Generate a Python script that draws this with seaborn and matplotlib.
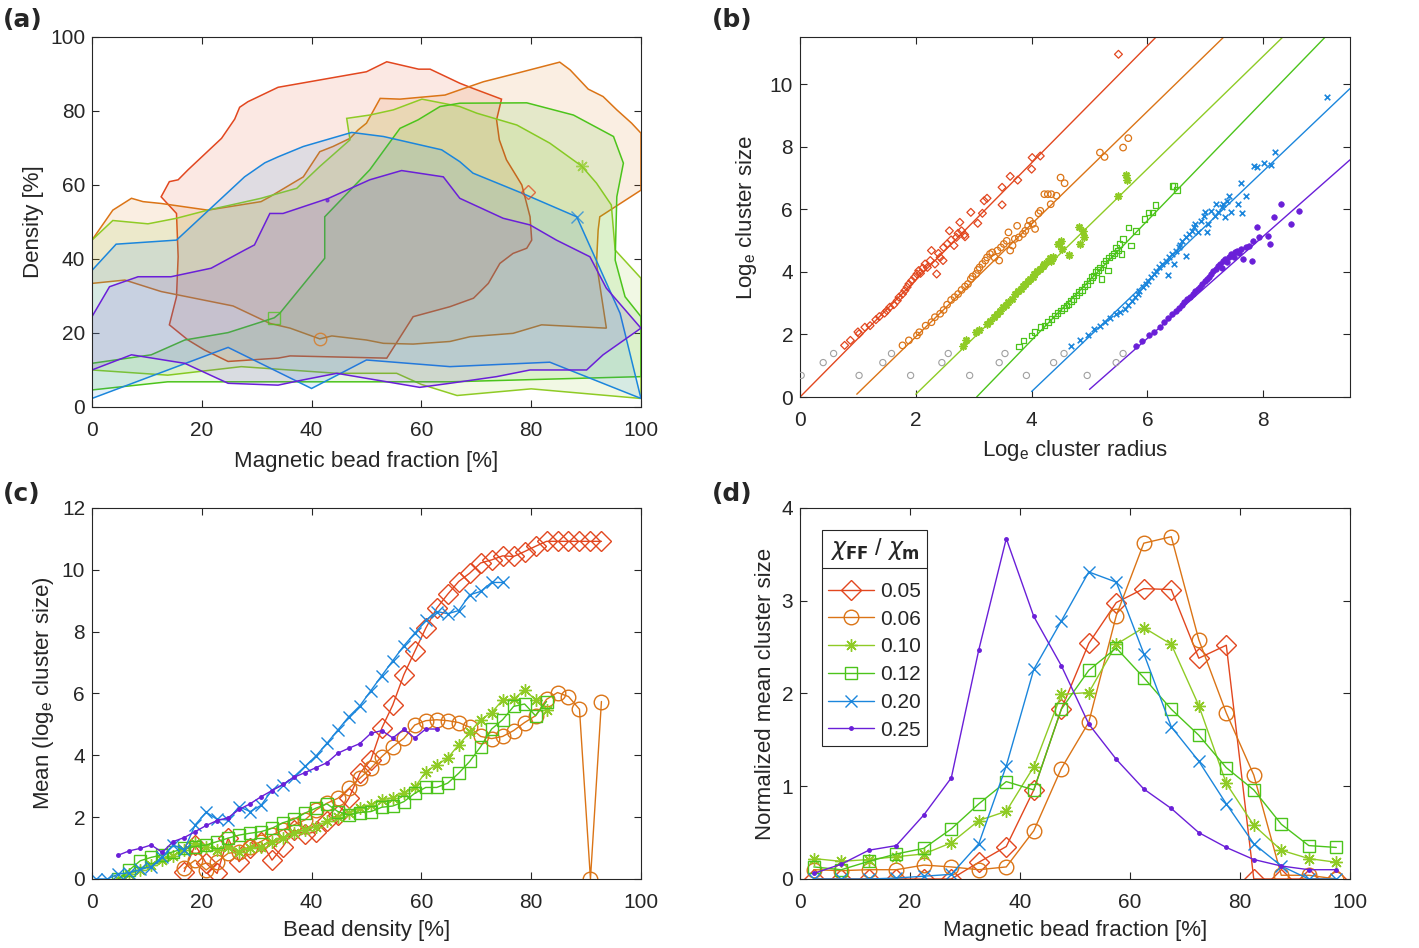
import matplotlib
matplotlib.use('Agg')
import matplotlib.pyplot as plt
from matplotlib.lines import Line2D
from matplotlib.colors import to_rgba
import numpy as np
import seaborn as sns

# ---------------- shared series info ----------------
ratios = ['0.05', '0.06', '0.10', '0.12', '0.20', '0.25']
colors = ['#E2471F', '#DB7416', '#8FCB25', '#4CC41B', '#1B86DC', '#6A1FD8']

# ---------------- panel (a): occupied regions (bead fraction %, density %) ----------------
a_x_005 = [12.6, 14.1, 15.7, 17.5, 23.6, 26.0, 26.9, 28.4, 33.9, 50.0, 53.7, 59.5, 61.6, 67.0, 69.4,
           74.6, 73.7, 74.2, 75.5, 77.4, 78.3, 79.8, 80.1, 79.2, 76.7, 74.3, 72.2, 69.5, 65.2, 58.5,
           53.7, 36.1, 33.9, 24.8, 20.5, 17.5, 14.1, 15.4, 15.7, 15.4]
a_y_005 = [56.8, 60.9, 61.4, 64.1, 72.6, 77.8, 81.0, 82.5, 86.4, 90.6, 93.3, 91.3, 91.3, 87.5, 86.1,
           83.2, 77.6, 72.2, 66.8, 62.2, 60.0, 51.4, 45.1, 42.9, 41.5, 38.8, 33.4, 29.4, 27.1, 24.4,
           13.2, 13.8, 13.2, 12.3, 15.4, 18.1, 22.2, 29.8, 40.6, 52.3]
a_x_006 = [0, 3.8, 7.2, 9.3, 12.6, 21.1, 30.8, 32.4, 38.5, 41.5, 43.9, 47.0, 48.5, 50.0, 52.5, 56.1,
           64.3, 67.0, 71.3, 77.4, 85.2, 87.1, 90.4, 93.1, 95.6, 98.3, 100, 100, 92.5, 92.2, 91.9,
           93.7, 81.9, 76.7, 68.9, 65.2, 58.5, 53.1, 50.0, 43.7, 41.5, 36.1, 32.4, 25.7, 12.6, 6.0, 0]
a_y_006 = [45.1, 53.2, 56.4, 55.5, 55.0, 53.2, 55.5, 56.8, 62.2, 69.0, 70.4, 72.6, 74.9, 76.7, 83.4, 83.2,
           84.3, 85.7, 87.9, 90.2, 93.2, 91.1, 85.9, 83.9, 80.3, 76.7, 74.0, 58.6, 51.4, 47.8, 38.8,
           21.3, 22.2, 19.9, 19.0, 17.7, 17.0, 17.2, 18.1, 19.2, 18.4, 21.3, 22.6, 27.3, 31.2, 34.3, 33.4]
a_x_010 = [0, 3.8, 10.2, 15.4, 21.1, 30.8, 37.3, 41.5, 47.0, 46.4, 50.6, 54.9, 60.1, 67.0, 70.1, 77.4,
           83.4, 89.2, 91.9, 94.6, 95.3, 100, 100, 80.0, 66.5, 60.0, 55.5, 44.6, 27.2, 13.8, 0]
a_y_010 = [45.1, 50.4, 49.5, 51.0, 53.2, 56.4, 59.1, 65.0, 72.2, 78.0, 78.9, 80.3, 83.2, 81.2, 79.4, 76.2,
           71.3, 65.1, 60.5, 54.6, 42.4, 34.8, 2.3, 4.9, 3.1, 6.1, 9.1, 9.1, 10.9, 8.6, 10.0]
a_x_012 = [0, 13.8, 29.0, 65.2, 100, 100, 97.1, 95.3, 95.6, 96.8, 95.0, 87.7, 79.2, 67.0, 63.4, 59.4,
           56.1, 50.6, 42.4, 42.4, 34.2, 33.2, 24.8, 16.9, 10.8, 0]
a_y_012 = [4.6, 6.8, 6.8, 6.8, 8.2, 24.4, 29.8, 39.7, 56.8, 65.9, 73.1, 78.9, 82.2, 82.1, 81.2, 77.6,
           75.3, 64.1, 51.4, 40.2, 25.3, 24.1, 20.1, 18.1, 14.1, 11.8]
a_x_020 = [0, 4.4, 15.4, 27.8, 31.5, 33.9, 38.5, 47.3, 53.1, 63.7, 67.0, 69.4, 78.3, 88.3, 96.2, 100,
           83.4, 65.2, 50.0, 40.0, 24.8, 0]
a_y_020 = [36.9, 44.0, 45.1, 62.2, 66.0, 67.6, 70.4, 74.2, 73.1, 69.5, 66.3, 63.2, 57.8, 51.4, 25.3, 2.3,
           12.1, 10.9, 12.7, 5.0, 16.1, 2.3]
a_x_025 = [0, 3.2, 8.4, 14.4, 21.7, 27.8, 29.6, 32.4, 34.8, 43.1, 50.6, 56.4, 64.0, 67.0, 74.9, 79.8,
           84.6, 90.7, 93.7, 100, 93.1, 90.1, 79.8, 73.7, 65.2, 59.7, 44.6, 38.4, 33.9, 24.8, 16.9, 7.2, 0]
a_y_025 = [24.4, 32.5, 35.2, 35.2, 37.5, 42.4, 43.8, 52.3, 52.3, 56.4, 61.4, 63.9, 62.2, 56.4, 51.0, 49.2,
           45.1, 40.6, 32.1, 21.3, 14.1, 10.0, 10.0, 8.2, 6.4, 5.3, 9.1, 7.3, 5.9, 6.4, 11.8, 14.1, 10.0]
# one marker on each outline
a_mark_x = [79.5, 41.5, 89.2, 33.2, 88.3, 42.8]
a_mark_y = [58.0, 18.4, 65.1, 24.1, 51.4, 56.0]

# ---------------- panel (b): log size vs log radius (shifted by 1 per series) ----------------
b_x_005 = [0.77, 0.87, 1.00, 1.02, 1.12, 1.21, 1.31, 1.37, 1.46, 1.50, 1.55, 1.62, 1.68, 1.71, 1.77, 1.81,
           1.85, 1.88, 1.93, 1.98, 2.02, 2.05, 2.08, 2.12, 2.16, 2.20, 2.25, 2.27, 2.33, 2.36, 2.39, 2.42,
           2.47, 2.48, 2.54, 2.58, 2.61, 2.66, 2.70, 2.73, 2.76, 2.79, 2.84, 2.85, 2.95, 3.07, 3.15, 3.18,
           3.23, 3.49, 3.49, 3.63, 3.76, 4.00, 4.01, 4.15, 5.50]
b_y_005 = [1.65, 1.81, 2.08, 2.02, 2.23, 2.28, 2.47, 2.57, 2.68, 2.76, 2.87, 2.95, 3.08, 3.19, 3.29, 3.40,
           3.51, 3.61, 3.72, 3.83, 3.93, 4.04, 3.95, 4.12, 4.25, 4.14, 4.36, 4.68, 4.25, 3.93, 4.59, 4.46,
           4.36, 4.78, 4.89, 5.31, 5.02, 4.84, 5.10, 5.23, 5.58, 5.31, 5.19, 5.12, 5.90, 5.55, 5.87, 6.27,
           6.35, 6.70, 6.14, 7.05, 6.93, 7.28, 7.65, 7.70, 10.95]
b_x_006 = [1.77, 1.88, 2.02, 2.06, 2.17, 2.27, 2.33, 2.42, 2.48, 2.54, 2.61, 2.67, 2.73, 2.79, 2.85, 2.90,
           2.95, 2.98, 3.04, 3.07, 3.10, 3.15, 3.20, 3.23, 3.28, 3.32, 3.36, 3.41, 3.44, 3.47, 3.52, 3.57,
           3.60, 3.63, 3.67, 3.71, 3.75, 3.78, 3.85, 3.89, 3.94, 3.97, 4.02, 4.06, 4.12, 4.15, 4.22, 4.28,
           4.33, 4.34, 4.43, 4.50, 4.57, 5.18, 5.26, 5.58, 5.67]
b_y_006 = [1.65, 1.81, 1.97, 2.07, 2.28, 2.39, 2.55, 2.66, 2.78, 2.95, 3.10, 3.19, 3.29, 3.42, 3.53, 3.61,
           3.77, 3.85, 3.93, 4.06, 4.14, 4.25, 4.36, 4.46, 4.57, 4.62, 4.46, 4.68, 4.36, 4.78, 4.89, 4.99,
           5.26, 4.68, 4.84, 5.05, 5.47, 5.10, 5.21, 5.31, 5.47, 5.63, 5.53, 5.37, 5.87, 5.95, 6.48, 6.48,
           6.16, 6.48, 6.43, 7.01, 6.83, 7.81, 7.67, 7.97, 8.27]
b_x_010 = [2.82, 2.87, 3.04, 3.09, 3.23, 3.28, 3.35, 3.41, 3.46, 3.50, 3.55, 3.60, 3.66, 3.72, 3.77, 3.81,
           3.85, 3.89, 3.94, 3.97, 4.02, 4.04, 4.09, 4.14, 4.19, 4.22, 4.28, 4.31, 4.34, 4.37, 4.45, 4.50,
           4.53, 4.65, 4.82, 4.84, 4.89, 4.91, 5.49, 5.63, 5.64]
b_y_010 = [1.62, 1.81, 2.07, 2.13, 2.34, 2.42, 2.55, 2.66, 2.76, 2.87, 2.95, 3.03, 3.13, 3.29, 3.38, 3.45,
           3.56, 3.61, 3.70, 3.77, 3.83, 3.93, 4.02, 4.09, 4.20, 4.25, 4.36, 4.43, 4.36, 4.46, 4.89, 4.99,
           4.73, 4.55, 5.44, 4.89, 5.31, 5.10, 6.43, 7.10, 6.93]
b_x_012 = [3.78, 3.86, 4.00, 4.05, 4.15, 4.22, 4.28, 4.34, 4.40, 4.45, 4.51, 4.56, 4.60, 4.64, 4.68, 4.72,
           4.77, 4.82, 4.87, 4.91, 4.96, 5.01, 5.04, 5.07, 5.11, 5.15, 5.18, 5.21, 5.24, 5.28, 5.32, 5.34,
           5.39, 5.42, 5.46, 5.49, 5.52, 5.55, 5.58, 5.67, 5.72, 5.80, 5.95, 6.02, 6.09, 6.14, 6.43, 6.46,
           6.51]
b_y_012 = [1.62, 1.81, 1.97, 2.07, 2.23, 2.28, 2.39, 2.50, 2.60, 2.68, 2.76, 2.85, 2.92, 2.98, 3.06, 3.13,
           3.24, 3.35, 3.42, 3.53, 3.61, 3.72, 3.83, 3.88, 3.99, 4.06, 4.14, 3.77, 4.25, 4.36, 4.04, 4.46,
           4.52, 4.59, 4.78, 4.68, 4.89, 4.57, 5.05, 5.42, 4.84, 5.31, 5.69, 5.90, 5.90, 6.14, 6.75, 6.75,
           6.61]
b_x_020 = [4.68, 4.84, 4.97, 5.08, 5.18, 5.27, 5.36, 5.46, 5.53, 5.61, 5.67, 5.73, 5.78, 5.83, 5.86, 5.92,
           5.98, 6.01, 6.07, 6.11, 6.14, 6.20, 6.26, 6.32, 6.35, 6.38, 6.43, 6.46, 6.50, 6.54, 6.57, 6.60,
           6.66, 6.66, 6.72, 6.77, 6.80, 6.83, 6.88, 6.93, 6.97, 7.00, 7.03, 7.05, 7.10, 7.16, 7.19, 7.22,
           7.28, 7.31, 7.34, 7.37, 7.41, 7.44, 7.56, 7.61, 7.63, 7.70, 7.84, 7.90, 8.01, 8.13, 8.21, 9.11]
b_y_020 = [1.62, 1.81, 1.97, 2.18, 2.28, 2.39, 2.53, 2.64, 2.71, 2.82, 2.95, 3.06, 3.19, 3.29, 3.38, 3.51,
           3.61, 3.72, 3.83, 3.93, 4.02, 4.14, 4.25, 4.36, 3.91, 4.46, 4.57, 4.25, 4.68, 4.78, 4.87, 4.99,
           4.52, 5.10, 5.21, 5.31, 5.42, 5.53, 5.26, 5.63, 5.79, 5.90, 5.26, 5.53, 5.95, 5.79, 6.16, 5.90,
           6.06, 6.16, 5.74, 6.27, 6.43, 5.90, 6.16, 6.85, 5.87, 6.43, 7.39, 7.35, 7.49, 7.42, 7.84, 9.59]
b_x_025 = [5.80, 5.90, 6.02, 6.12, 6.21, 6.29, 6.35, 6.43, 6.50, 6.54, 6.60, 6.64, 6.69, 6.74, 6.79, 6.83,
           6.88, 6.91, 6.94, 6.99, 7.03, 7.07, 7.10, 7.13, 7.18, 7.22, 7.25, 7.28, 7.31, 7.34, 7.37, 7.41,
           7.45, 7.49, 7.51, 7.55, 7.59, 7.62, 7.65, 7.70, 7.75, 7.81, 7.82, 7.90, 7.93, 8.09, 8.12, 8.18,
           8.30, 8.48, 8.61]
b_y_025 = [1.62, 1.79, 1.97, 2.07, 2.25, 2.39, 2.53, 2.66, 2.76, 2.85, 2.95, 3.03, 3.13, 3.21, 3.29, 3.38,
           3.45, 3.53, 3.61, 3.70, 3.77, 3.85, 3.93, 4.02, 4.09, 4.17, 4.25, 4.12, 4.34, 4.41, 4.30, 4.48,
           4.57, 4.46, 4.62, 4.68, 4.59, 4.73, 4.41, 4.78, 4.84, 4.36, 4.99, 5.42, 5.10, 5.15, 4.89, 5.74,
           6.18, 5.53, 5.95]
# smallest clusters (excluded from the fits), grey
b_small_x = [0.02, 0.40, 0.58, 1.02, 1.43, 1.58, 1.91, 2.45, 2.56,
             2.93, 3.44, 3.54, 3.91, 4.38, 4.56, 4.96, 5.46, 5.58]
b_small_y = [0.69, 1.10, 1.39, 0.69, 1.10, 1.39, 0.69, 1.10, 1.39,
             0.69, 1.10, 1.39, 0.69, 1.10, 1.39, 0.69, 1.10, 1.39]
# fitted lines: slope and x-intercept, drawn from x-start
b_fit_slope = [1.87, 1.80, 1.80, 1.91, 1.76, 1.63]
b_fit_x0 = [0.0, 0.93, 1.95, 3.05, 3.90, 4.85]
b_fit_start = [0.0, 0.98, 2.0, 3.05, 4.0, 5.0]

# ---------------- panel (c): mean log size vs bead density ----------------
density = [0.8, 2.8, 4.8, 6.8, 8.8, 10.8, 12.8, 14.8, 16.8, 18.8, 20.8, 22.8, 24.8, 26.8, 28.8, 30.8,
           32.8, 34.8, 36.8, 38.8, 40.8, 42.8, 44.8, 46.8, 48.8, 50.8, 52.8, 54.8, 56.8, 58.8, 60.8,
           62.8, 64.8, 66.8, 68.8, 70.8, 72.8, 74.8, 76.8, 78.8, 80.8, 82.8, 84.8, 86.8, 88.8, 90.8, 92.8]
c_start = [8, 8, 2, 2, 0, 2]
c_005 = [0.24, 1.10, 0.51, 0.18, 1.32, 0.56, 0.99, 1.21, 0.61, 1.05, 1.59, 1.45, 1.53, 1.86, 2.07, 2.61,
         3.42, 3.85, 4.88, 5.63, 6.60, 7.36, 8.11, 8.76, 9.21, 9.62, 9.89, 10.22, 10.32, 10.45, 10.43,
         10.59, 10.76, 10.92, 10.92, 10.92, 10.92, 10.92, 10.92]
c_006 = [0.35, 0.61, 0.29, 0.56, 0.83, 0.88, 1.05, 1.21, 1.42, 1.59, 1.75, 1.91, 2.23, 2.45, 2.61, 2.93,
         3.26, 3.58, 3.96, 4.28, 4.55, 4.98, 5.12, 5.15, 5.12, 5.06, 4.91, 4.61, 4.54, 4.61, 4.80, 5.06,
         5.28, 5.81, 6.03, 5.90, 5.49, 0.0, 5.74]
c_010 = [0.0, 0.16, 0.29, 0.45, 0.61, 0.74, 0.94, 1.15, 1.05, 0.94, 1.05, 0.88, 0.99, 1.05, 1.21, 1.32,
         1.48, 1.59, 1.69, 1.86, 2.02, 2.13, 2.29, 2.39, 2.56, 2.63, 2.77, 2.96, 3.47, 3.69, 3.91, 4.34,
         4.74, 5.15, 5.38, 5.79, 5.81, 6.12, 5.79, 5.45]
c_012 = [0.0, 0.29, 0.59, 0.70, 0.78, 0.88, 0.99, 1.05, 1.10, 1.21, 1.32, 1.42, 1.48, 1.53, 1.64, 1.82,
         1.93, 2.13, 2.29, 2.43, 2.18, 2.07, 2.15, 2.18, 2.32, 2.36, 2.50, 2.77, 2.96, 2.96, 3.10, 3.42,
         3.80, 4.28, 4.85, 5.15, 5.58, 5.66, 5.28, 5.74]
c_020 = [0.0, 0.0, 0.16, 0.20, 0.31, 0.40, 0.72, 1.10, 0.94, 1.75, 2.16, 1.93, 1.91, 2.34, 2.18, 2.38,
         2.88, 3.04, 3.31, 3.64, 3.98, 4.39, 4.82, 5.25, 5.60, 6.09, 6.58, 7.06, 7.54, 7.95, 8.36, 8.65,
         8.58, 8.68, 9.19, 9.30, 9.59, 9.59]
c_025 = [0.77, 0.91, 0.99, 1.10, 0.86, 1.21, 1.34, 1.53, 1.73, 1.89, 1.98, 2.25, 2.43, 2.66, 2.86, 3.06,
         3.29, 3.44, 3.60, 3.76, 4.07, 4.23, 4.38, 4.71, 4.80, 4.56, 4.84, 4.56, 4.85, 4.85]

# ---------------- panel (d): normalised mean cluster size vs bead fraction ----------------
fraction = [2.5, 7.5, 12.5, 17.5, 22.5, 27.5, 32.5, 37.5, 42.5, 47.5,
            52.5, 57.5, 62.5, 67.5, 72.5, 77.5, 82.5, 87.5, 92.5, 97.5]
d_005 = [0, 0, 0, 0, 0, 0, 0.18, 0.35, 0.96, 1.83, 2.54, 2.98, 3.13, 3.12, 2.38, 2.52, 0, 0, 0, 0]
d_006 = [0.10, 0.09, 0.10, 0.10, 0.15, 0.13, 0.10, 0.13, 0.52, 1.19, 1.69, 2.84, 3.62, 3.69, 2.58, 1.79,
         1.12, 0.04, 0.04, 0.0]
d_010 = [0.22, 0.19, 0.21, 0.24, 0.27, 0.39, 0.63, 0.73, 1.21, 1.99, 2.01, 2.53, 2.71, 2.53, 1.87, 1.03,
         0.58, 0.31, 0.22, 0.18]
d_012 = [0.13, 0.10, 0.19, 0.27, 0.33, 0.54, 0.81, 1.05, 0.96, 1.83, 2.25, 2.49, 2.17, 1.83, 1.55, 1.20,
         0.96, 0.59, 0.36, 0.34]
d_020 = [0, 0, 0, 0.01, 0.03, 0.05, 0.38, 1.22, 2.26, 2.78, 3.31, 3.20, 2.43, 1.64, 1.27, 0.81, 0.38,
         0.14, 0, 0]
d_025 = [0.06, 0.16, 0.31, 0.36, 0.69, 1.09, 2.47, 3.67, 2.83, 2.30, 1.67, 1.29, 0.97, 0.76, 0.50, 0.34,
         0.21, 0.14, 0.10, 0.10]

# ---------------- style ----------------
sns.set_style('ticks')
plt.rcParams['font.family'] = ['Liberation Sans', 'DejaVu Sans']
plt.rcParams['axes.edgecolor'] = '#262626'
plt.rcParams['axes.linewidth'] = 0.8
plt.rcParams['xtick.color'] = '#262626'
plt.rcParams['ytick.color'] = '#262626'
TICK_FS = 15
LAB_FS = 16

fig = plt.figure(figsize=(14.19, 9.48), dpi=100)
ax_a = fig.add_axes([0.0648, 0.5707, 0.3869, 0.3903])
ax_b = fig.add_axes([0.5638, 0.5812, 0.3876, 0.3797])
ax_c = fig.add_axes([0.0648, 0.0728, 0.3869, 0.3914])
ax_d = fig.add_axes([0.5638, 0.0728, 0.3876, 0.3914])

for ax in (ax_a, ax_b, ax_c, ax_d):
    ax.tick_params(direction='in', top=True, right=True, length=5, width=0.8,
                   labelsize=TICK_FS, labelcolor='#262626')
    ax.tick_params(axis='x', pad=10)
    ax.tick_params(axis='y', pad=5)
    for s in ax.spines.values():
        s.set_visible(True)

marker_cd = ['D', 'o', (8, 2, 0), 's', 'x', '.']
open_face = [True, True, True, True, True, False]

# ---- (a) ----
a_polys = [(a_x_005, a_y_005), (a_x_006, a_y_006), (a_x_010, a_y_010),
           (a_x_012, a_y_012), (a_x_020, a_y_020), (a_x_025, a_y_025)]
for (px, py), col in zip(a_polys, colors):
    ax_a.fill(px, py, facecolor=to_rgba(col, 0.12), edgecolor=col, lw=1.1)
for i, col in enumerate(colors):
    ax_a.plot(a_mark_x[i], a_mark_y[i], marker=marker_cd[i], ms=[7, 9, 9, 8, 9, 4][i],
              mfc='none' if open_face[i] else col, mec=col, mew=1.0, alpha=0.75)
ax_a.set_xlim(0, 100)
ax_a.set_ylim(0, 100)
ax_a.set_xticks(range(0, 101, 20))
ax_a.set_yticks(range(0, 101, 20))
ax_a.set_xlabel('Magnetic bead fraction [%]', fontsize=LAB_FS, labelpad=8)
ax_a.set_ylabel('Density [%]', fontsize=LAB_FS)

# ---- (b) ----
b_sets = [(b_x_005, b_y_005), (b_x_006, b_y_006), (b_x_010, b_y_010),
          (b_x_012, b_y_012), (b_x_020, b_y_020), (b_x_025, b_y_025)]
b_marker = ['D', 'o', (8, 2, 0), 's', 'x', 'o']
b_size = [16, 22, 22, 16, 16, 16]
for i, ((bx, by), col) in enumerate(zip(b_sets, colors)):
    if i in (2, 4):
        sns.scatterplot(x=bx, y=by, ax=ax_b, marker=b_marker[i], s=b_size[i], color=col,
                        linewidth=1.2, zorder=3)
    elif i == 5:
        sns.scatterplot(x=bx, y=by, ax=ax_b, marker='o', s=b_size[i], color=col,
                        edgecolor=col, linewidth=0.5, zorder=3)
    else:
        sns.scatterplot(x=bx, y=by, ax=ax_b, marker=b_marker[i], s=b_size[i],
                        facecolors='none', edgecolors=col, linewidth=0.9, zorder=3)
sns.scatterplot(x=b_small_x, y=b_small_y, ax=ax_b, marker='o', s=20,
                facecolors='none', edgecolors='#a0a0a0', linewidth=0.8, zorder=3)
for slope, x0, xs, col in zip(b_fit_slope, b_fit_x0, b_fit_start, colors):
    xl = np.array([xs, 9.5])
    sns.lineplot(x=xl, y=slope * (xl - x0), ax=ax_b, color=col, lw=1.0, errorbar=None)
ax_b.set_xlim(0, 9.5)
ax_b.set_ylim(0, 11.5)
ax_b.set_xticks([0, 2, 4, 6, 8])
ax_b.set_yticks([0, 2, 4, 6, 8, 10])
ax_b.set_xlabel(r'Log$_\mathregular{e}$ cluster radius', fontsize=LAB_FS, labelpad=6)
ax_b.set_ylabel(r'Log$_\mathregular{e}$ cluster size', fontsize=LAB_FS, labelpad=8)

# ---- (c) ----
c_sets = [c_005, c_006, c_010, c_012, c_020, c_025]
c_ms = [10, 10.5, 9, 8, 9, 5]
for vals, st, col, mk, ms, of in zip(c_sets, c_start, colors, marker_cd, c_ms, open_face):
    xs = density[st:st + len(vals)]
    sns.lineplot(x=xs, y=vals, ax=ax_c, color=col, lw=1.0, marker=mk, markersize=ms,
                 markerfacecolor='none' if of else col, markeredgecolor=col,
                 markeredgewidth=1.0, errorbar=None, sort=False)
ax_c.set_xlim(0, 100)
ax_c.set_ylim(0, 12)
ax_c.set_xticks(range(0, 101, 20))
ax_c.set_yticks(range(0, 13, 2))
ax_c.set_xlabel('Bead density [%]', fontsize=LAB_FS, labelpad=6)
ax_c.set_ylabel(r'Mean (log$_\mathregular{e}$ cluster size)', fontsize=LAB_FS)

# ---- (d) ----
d_sets = [d_005, d_006, d_010, d_012, d_020, d_025]
d_ms = [10, 10.5, 9, 8, 9, 5]
for vals, lab, col, mk, ms, of in zip(d_sets, ratios, colors, marker_cd, d_ms, open_face):
    sns.lineplot(x=fraction, y=vals, ax=ax_d, color=col, lw=1.0, marker=mk, markersize=ms,
                 markerfacecolor='none' if of else col, markeredgecolor=col,
                 markeredgewidth=1.0, errorbar=None, sort=False, label=lab)
ax_d.set_xlim(0, 100)
ax_d.set_ylim(0, 4)
ax_d.set_xticks(range(0, 101, 20))
ax_d.set_yticks(range(0, 5))
ax_d.set_xlabel('Magnetic bead fraction [%]', fontsize=LAB_FS, labelpad=6)
ax_d.set_ylabel('Normalized mean cluster size', fontsize=LAB_FS)
leg = ax_d.legend(title=r'$\chi_{\mathbf{FF}}$ / $\chi_{\mathbf{m}}$', loc='upper left',
                  bbox_to_anchor=(0.04, 0.94), borderaxespad=0, fontsize=15, title_fontsize=17,
                  fancybox=False, framealpha=1, edgecolor='#262626', handlelength=2.2,
                  labelspacing=0.42, borderpad=0.3, handletextpad=0.3)
leg.get_frame().set_linewidth(0.8)
leg._legend_box.sep = 14  # extra room between title and entries

# panel letters
for txt, x, y in [('(a)', 0.002, 0.979), ('(b)', 0.502, 0.979),
                  ('(c)', 0.002, 0.479), ('(d)', 0.502, 0.479)]:
    fig.text(x, y, txt, fontsize=18, fontweight='bold', family='DejaVu Sans', va='center')

# separator under the legend title
fig.canvas.draw()
rend = fig.canvas.get_renderer()
fb = leg.get_frame().get_window_extent(rend)
tb = leg.get_title().get_window_extent(rend)
inv = fig.transFigure.inverted()
(x0, y0), (x1, _) = inv.transform([(fb.x0, tb.y0 - 6), (fb.x1, tb.y0 - 6)])
fig.add_artist(Line2D([x0, x1], [y0, y0], transform=fig.transFigure, color='#262626', lw=0.8))

fig.savefig('out.png', dpi=100)
